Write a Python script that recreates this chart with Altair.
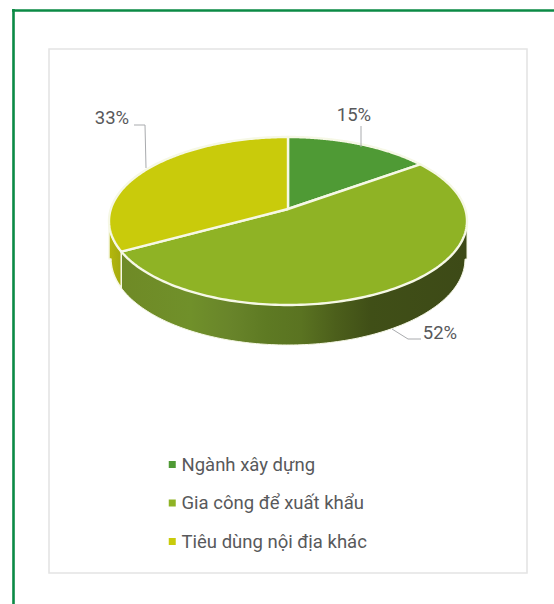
import numpy as np
import pandas as pd
import altair as alt

# Shares of the pie, clockwise from twelve o'clock
categories = ["Ngành xây dựng", "Gia công để xuất khẩu", "Tiêu dùng nội địa khác"]
shares = [15, 52, 33]
share_labels = ["15%", "52%", "33%"]
colors = ["#4f9a35", "#8fb325", "#c9cb0b"]

W, H = 554, 604
FONT = "Roboto"
TEXT = "#58595b"
RIM = "#f6f8e6"

# Tilted disc: outline ellipse plus the perspective pull of the far side
CX, CY, RX, RY = 288.0, 221.0, 179.0, 84.0
TILT = -0.143
BOTTOM_CY, BOTTOM_RX, BOTTOM_RY = 259.0, 177.0, 86.0


def project(fraction):
    """Screen position of a point on the disc rim, given as a fraction of the turn."""
    a = 2 * np.pi * np.asarray(fraction, dtype=float)
    u, v = np.sin(a), -np.cos(a)
    d = 1 + TILT * v
    return CX + RX * u * np.sqrt(1 - TILT**2) / d, CY + RY * (v + TILT) / d


def hub():
    return CX, CY + RY * TILT


def front_fraction_range():
    """Rim fractions at the right and left extremes of the outline ellipse."""
    grid = np.linspace(0, 1, 4001)
    x, _ = project(grid)
    return grid[np.argmax(x)], grid[np.argmin(x)]


total = sum(shares)
edges = np.cumsum([0] + shares) / total

# Top face of every slice, closed through the hub
top_rows = []
hx, hy = hub()
for name, start, end in zip(categories, edges[:-1], edges[1:]):
    xs, ys = project(np.linspace(start, end, 160))
    px = np.concatenate([[hx], xs, [hx]])
    py = np.concatenate([[hy], ys, [hy]])
    top_rows += [
        {"category": name, "step": i, "x": a, "y": b}
        for i, (a, b) in enumerate(zip(px, py))
    ]
top_df = pd.DataFrame(top_rows)


def wall(start, end):
    """Side wall below a stretch of the rim."""
    xs, ys = project(np.linspace(start, end, 140))
    bx = xs[::-1].copy()
    nx = np.clip((bx - CX) / BOTTOM_RX, -1, 1)
    by = BOTTOM_CY + BOTTOM_RY * np.sqrt(1 - nx**2)
    px = np.concatenate([xs, bx, xs[:1]])
    py = np.concatenate([ys, by, ys[:1]])
    return pd.DataFrame({"step": np.arange(len(px)), "x": px, "y": py})


right_end, left_end = front_fraction_range()
green_wall = wall(right_end, edges[2])
yellow_wall = wall(edges[2], left_end)

x_scale = alt.Scale(domain=[0, W], range=[0, W], nice=False, zero=False)
y_scale = alt.Scale(domain=[0, H], range=[0, H], nice=False, zero=False)
X = alt.X("x:Q", scale=x_scale, axis=None)
Y = alt.Y("y:Q", scale=y_scale, axis=None)


def shaded(stops):
    return alt.LinearGradient(
        gradient="linear",
        x1=0, x2=1, y1=0, y2=0,
        stops=[alt.GradientStop(offset=o, color=c) for o, c in stops],
    )


# Side shading across the wall's width, lit on the left and dark on the right
green_shade = shaded([
    (0.0, "#6f8a26"), (0.20, "#70902a"), (0.32, "#68842a"), (0.42, "#5e7a23"),
    (0.52, "#5a7321"), (0.62, "#4c5f1b"), (0.72, "#404f17"), (1.0, "#3d4a17"),
])
yellow_shade = shaded([(0.0, "#b5b80c"), (1.0, "#a3a90e")])

green_wall_layer = alt.Chart(green_wall).mark_line(
    fill=green_shade, stroke=RIM, strokeWidth=1, strokeJoin="round"
).encode(x=X, y=Y, order="step:Q")
yellow_wall_layer = alt.Chart(yellow_wall).mark_line(
    fill=yellow_shade, stroke=RIM, strokeWidth=1.5, strokeJoin="round"
).encode(x=X, y=Y, order="step:Q")

top_layer = alt.Chart(top_df).mark_line(
    stroke=RIM, strokeWidth=2.4, strokeJoin="round"
).encode(
    x=X,
    y=Y,
    order="step:Q",
    fill=alt.Fill(
        "category:N",
        scale=alt.Scale(domain=categories, range=colors),
        legend=alt.Legend(
            title=None,
            orient="none",
            legendX=163,
            legendY=454,
            symbolType="square",
            symbolSize=49,
            symbolStrokeWidth=0,
            symbolOpacity=1,
            labelFont=FONT,
            labelFontSize=18.5,
            labelColor=TEXT,
            labelLimit=300,
            labelOffset=0,
            rowPadding=17.5,
            clipHeight=21,
        ),
    ),
)


def rule(x, x2, y, y2, color, width):
    return alt.Chart(pd.DataFrame({"k": [0]})).mark_rule(
        color=color, strokeWidth=width
    ).encode(
        x=alt.value(x), x2=alt.value(x2), y=alt.value(y), y2=alt.value(y2)
    )


# Page furniture: green corner frame and the pale panel
frame = alt.layer(
    rule(13.5, 13.5, 9, H, "#0b8a45", 2.6),
    rule(12, W, 10.5, 10.5, "#0b8a45", 2.6),
)
panel = alt.Chart(pd.DataFrame({"k": [0]})).mark_rect(
    fill="white", stroke="#e4e4e4", strokeWidth=1.6
).encode(x=alt.value(49), x2=alt.value(527), y=alt.value(49), y2=alt.value(573))

# Leader lines from the labels to the slices
LEADER = "#a9abae"
leaders = alt.layer(
    rule(361, 361, 126, 147, LEADER, 1),
    rule(134, 145, 125, 125, LEADER, 1),
    rule(145, 146, 125, 168, LEADER, 1),
    rule(392, 408, 329, 339, LEADER, 1),
    rule(408, 421, 339, 339, LEADER, 1),
)


def label(text, x, y):
    return alt.Chart(pd.DataFrame({"t": [text]})).mark_text(
        font=FONT, fontSize=18.5, color=TEXT, align="center", baseline="middle"
    ).encode(x=alt.value(x), y=alt.value(y), text="t:N")


labels = alt.layer(
    label(share_labels[0], 354, 115),
    label(share_labels[1], 440, 333),
    label(share_labels[2], 112, 118),
)

chart = alt.layer(
    panel, frame, green_wall_layer, yellow_wall_layer, top_layer, leaders, labels
).properties(
    width=W,
    height=H,
    padding=0,
    background="white",
    autosize=alt.AutoSizeParams(type="none"),
).configure_view(stroke=None)

chart.save("out.html", embed_options={"renderer": "svg", "actions": False})
